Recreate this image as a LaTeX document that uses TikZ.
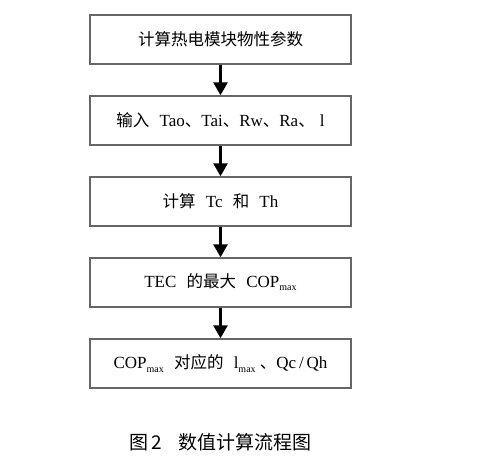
\documentclass[tikz,border=0pt]{standalone}
\usepackage{fontspec}
\setmainfont{Liberation Serif}
\newfontfamily\cjk{Noto Sans CJK SC}
\usetikzlibrary{arrows.meta}
\newcommand{\zh}[1]{{\cjk\fontsize{16.5}{18}\selectfont #1}}
\newcommand{\submax}{\raisebox{-0.4ex}{\fontsize{10}{10}\selectfont max}}
\newcommand{\gap}{\hspace{0.6em}}
\tikzset{
  stepbox/.style={draw=black!60, line width=1.4pt, fill=white, minimum width=261pt, minimum height=49pt, inner sep=0pt, font=\fontsize{17}{19}\selectfont},
  flowarrow/.style={line width=2.6pt, -{Triangle[width=14pt,length=13pt]}}
}
\begin{document}
\begin{tikzpicture}[x=1pt,y=-1pt]
\useasboundingbox (0,0) rectangle (503,468);
\node[stepbox] (b1) at (220.5,39.5) {\zh{计算热电模块物性参数}};
\node[stepbox] (b2) at (220.5,120.5) {\zh{输入}\gap Tao\zh{、}Tai\zh{、}Rw\zh{、}Ra\zh{、}\hspace{0.3em}l};
\node[stepbox] (b3) at (220.5,201.5) {\zh{计算}\gap Tc\gap\zh{和}\gap Th};
\node[stepbox] (b4) at (220.5,282.5) {TEC\gap\zh{的最大}\gap COP\submax};
\node[stepbox] (b5) at (220.5,363.5) {COP\submax\gap\zh{对应的}\gap l\submax\ \zh{、}Qc\,/\,Qh};
\draw[flowarrow] (b1.south) -- (b2.north);
\draw[flowarrow] (b2.south) -- (b3.north);
\draw[flowarrow] (b3.south) -- (b4.north);
\draw[flowarrow] (b4.south) -- (b5.north);
\node[font=\cjk\fontsize{19}{21}\selectfont] (cap) at (220.5,442) {图\,2\hspace{0.9em}数值计算流程图};
\end{tikzpicture}
\end{document}
